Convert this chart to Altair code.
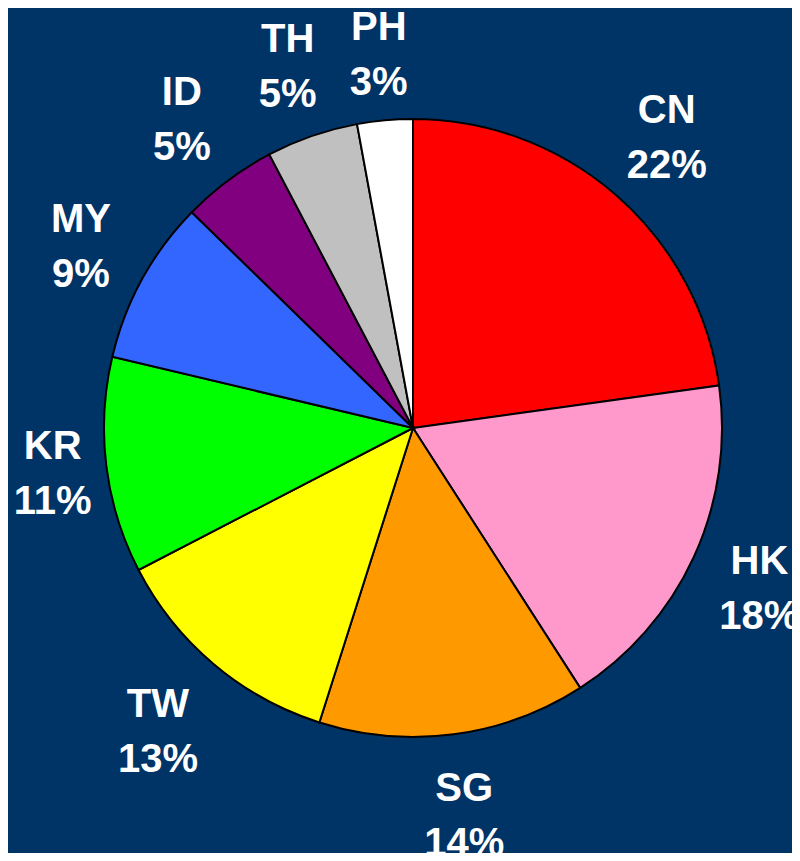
import altair as alt
import pandas as pd

countries = ["CN", "HK", "SG", "TW", "KR", "MY", "ID", "TH", "PH"]
shares = [22.8, 18.1, 14.0, 12.5, 11.3, 8.6, 5.0, 4.8, 2.9]
pct_labels = ["22%", "18%", "14%", "13%", "11%", "9%", "5%", "5%", "3%"]
colors = ["#FF0000", "#FF99CC", "#FF9900", "#FFFF00", "#00FF00",
          "#3366FF", "#800080", "#C0C0C0", "#FFFFFF"]

df = pd.DataFrame({
    "country": countries,
    "share": shares,
    "label": [f"{c}\n{p}" for c, p in zip(countries, pct_labels)],
    "order": list(range(len(countries))),
})

CX, CY, R = 405, 420, 309
LINE_H = 55

pie = alt.Chart(df).mark_arc(stroke="black", strokeWidth=2, radius=R).encode(
    theta=alt.Theta("share:Q", stack=True),
    order=alt.Order("order:Q"),
    color=alt.Color("country:N", scale=alt.Scale(domain=countries, range=colors), legend=None),
    x=alt.value(CX),
    y=alt.value(CY),
)

# label placed at the slice's mid angle; distance depends on that angle
text = alt.Chart(df).transform_joinaggregate(
    total="sum(share)"
).transform_window(
    cum="sum(share)", sort=[alt.SortField("order", order="ascending")], frame=[None, 0]
).transform_calculate(
    mid="2 * PI * (datum.cum - datum.share / 2) / datum.total",
).transform_calculate(
    lr="355 + 24 * abs(cos(datum.mid)) - 6 * cos(datum.mid) + 18 * abs(sin(2 * datum.mid))"
).mark_text(
    font="Liberation Sans",
    fontWeight="bold",
    fontSize=40,
    color="white",
    lineBreak="\n",
    lineHeight=LINE_H,
    dy=-LINE_H / 2 + 2,
    align="center",
    baseline="middle",
).encode(
    text="label:N",
    theta=alt.Theta("mid:Q", scale=None),
    radius=alt.Radius("lr:Q", scale=None),
    x=alt.value(CX),
    y=alt.value(CY),
)

chart = (pie + text).properties(
    width=784,
    height=845,
    autosize=alt.AutoSizeParams(type="none"),
    padding=0,
    background="#003366",
).configure_view(stroke=None)

chart.save("out.html", embed_options={"renderer": "svg", "actions": False})
